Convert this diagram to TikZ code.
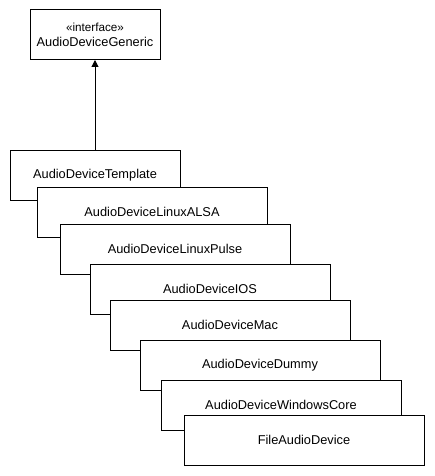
\documentclass[tikz,border=0pt]{standalone}
\usepackage{fontspec}
\setmainfont{Liberation Sans}
\usetikzlibrary{arrows.meta}
\begin{document}
\begin{tikzpicture}[x=1pt,y=-1pt,
  cls/.style={draw=black, fill=white, line width=1pt, rectangle, inner sep=0pt, outer sep=0pt,
    minimum height=50pt, anchor=north west, font=\fontsize{12.8pt}{15.5pt}\selectfont, align=center},
  gen/.style={-{Triangle[length=7pt,width=7pt]}, line width=1pt}]
\useasboundingbox (0,0) rectangle (435,476);
\node[cls, minimum width=130pt] (generic) at (30,10) {{\fontsize{11.7pt}{14pt}\selectfont «interface»}\\AudioDeviceGeneric};
\node[cls, minimum width=170pt] (template) at (10,150) {AudioDeviceTemplate};
\node[cls, minimum width=230pt] (alsa) at (37,187) {AudioDeviceLinuxALSA};
\node[cls, minimum width=230pt] (pulse) at (60,224) {AudioDeviceLinuxPulse};
\node[cls, minimum width=240pt] (ios) at (90,264) {AudioDeviceIOS};
\node[cls, minimum width=240pt] (mac) at (110,300) {AudioDeviceMac};
\node[cls, minimum width=240pt] (dummy) at (140,340) {AudioDeviceDummy};
\node[cls, minimum width=240pt] (wincore) at (161,380) {AudioDeviceWindowsCore};
\node[cls, minimum width=240pt] (file) at (184,415) {FileAudioDevice};
\draw[gen] (template.north) -- (generic.south);
\end{tikzpicture}
\end{document}
